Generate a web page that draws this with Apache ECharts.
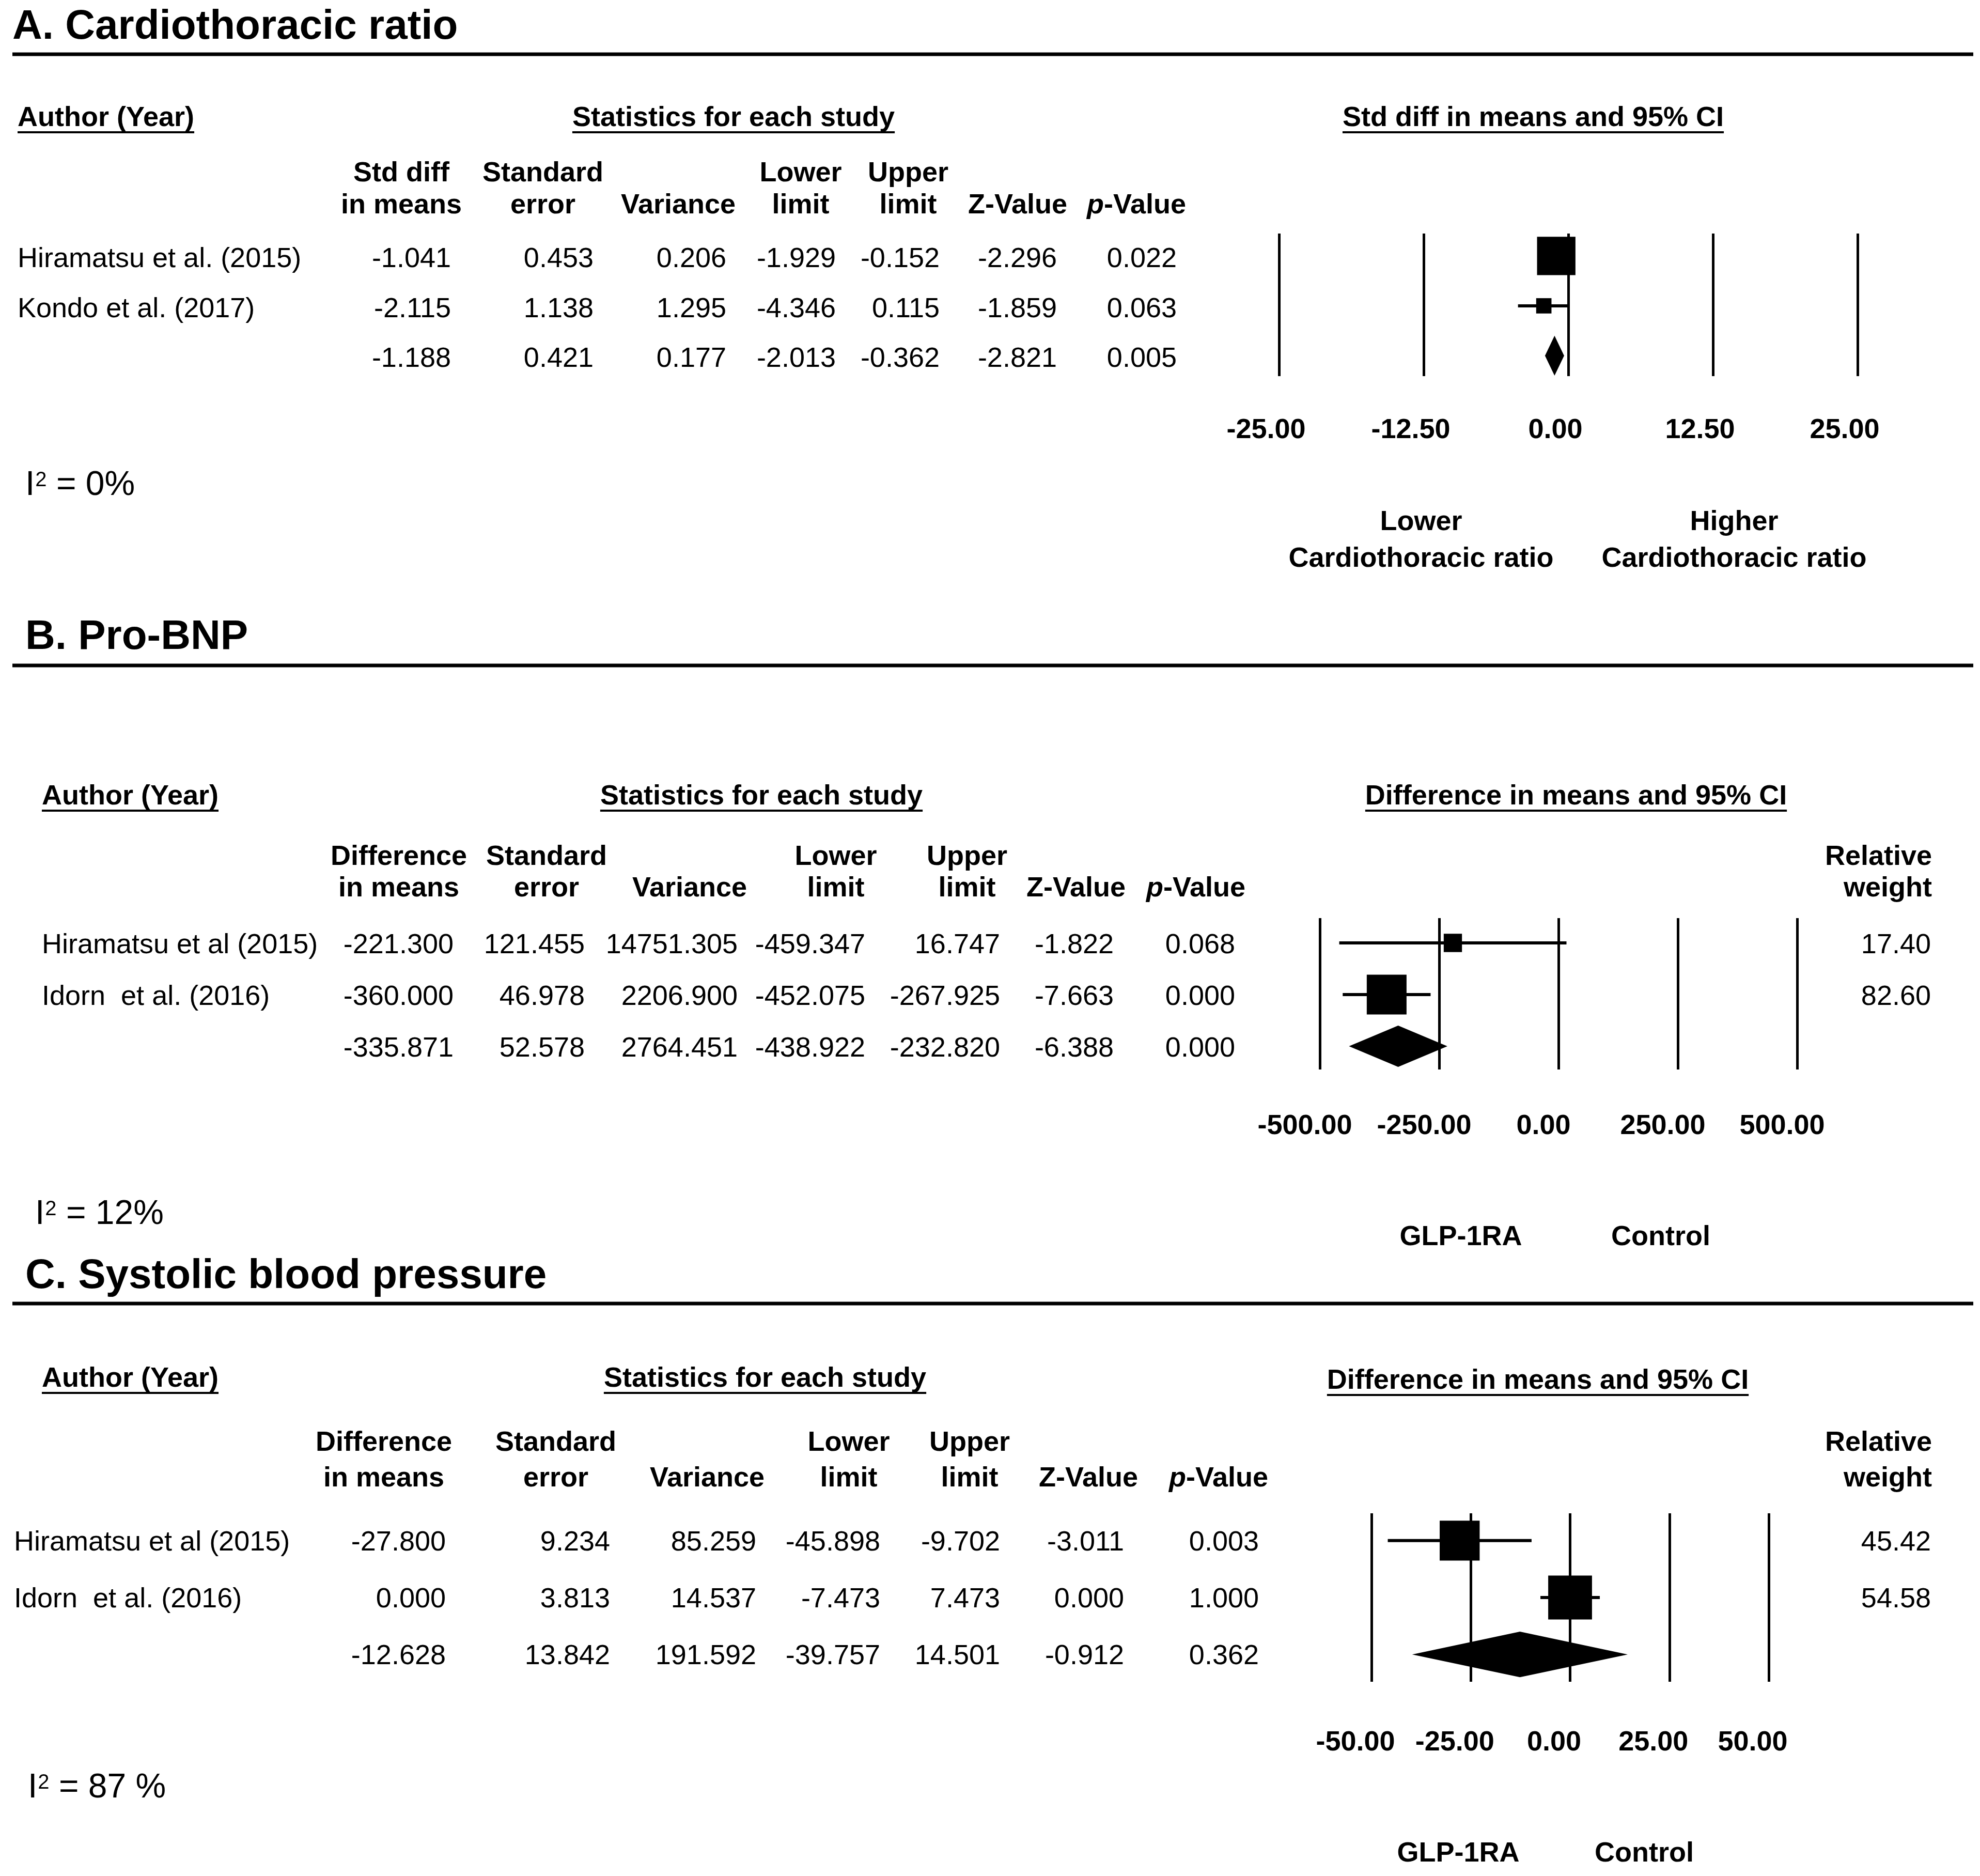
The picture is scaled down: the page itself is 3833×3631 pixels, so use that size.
<!DOCTYPE html>
<html><head><meta charset="utf-8">
<script src="https://cdn.jsdelivr.net/npm/echarts@6/dist/echarts.min.js"></script>
<style>html,body{margin:0;padding:0;background:#fff}#c{width:3833px;height:3631px}</style>
</head><body><div id="c"></div>
<script>
// ---------------- DATA ----------------
// A. Cardiothoracic ratio
const aTitle = 'A. Cardiothoracic ratio';
const aStudies = ['Hiramatsu et al. (2015)', 'Kondo et al. (2017)', ''];
const aEst = [-1.041, -2.115, -1.188];
const aSE = [0.453, 1.138, 0.421];
const aVar = [0.206, 1.295, 0.177];
const aLow = [-1.929, -4.346, -2.013];
const aUp = [-0.152, 0.115, -0.362];
const aZ = [-2.296, -1.859, -2.821];
const aP = [0.022, 0.063, 0.005];
const aTicks = [-25, -12.5, 0, 12.5, 25];
const aHeaders = [['Std diff', 'in means'], ['Standard', 'error'], ['', 'Variance'], ['Lower', 'limit'], ['Upper', 'limit'], ['', 'Z-Value'], ['', 'p-Value']];
const aPlotHeader = 'Std diff in means and 95% CI';
const aLeftLabel = ['Lower', 'Cardiothoracic ratio'];
const aRightLabel = ['Higher', 'Cardiothoracic ratio'];
const aI2 = ' = 0%';

// B. Pro-BNP
const bTitle = 'B. Pro-BNP';
const bStudies = ['Hiramatsu et al (2015)', 'Idorn  et al. (2016)', ''];
const bEst = [-221.300, -360.000, -335.871];
const bSE = [121.455, 46.978, 52.578];
const bVar = [14751.305, 2206.900, 2764.451];
const bLow = [-459.347, -452.075, -438.922];
const bUp = [16.747, -267.925, -232.820];
const bZ = [-1.822, -7.663, -6.388];
const bP = [0.068, 0.000, 0.000];
const bWeight = [17.40, 82.60];
const bTicks = [-500, -250, 0, 250, 500];
const bHeaders = [['Difference', 'in means'], ['Standard', 'error'], ['', 'Variance'], ['Lower', 'limit'], ['Upper', 'limit'], ['', 'Z-Value'], ['', 'p-Value']];
const bPlotHeader = 'Difference in means and 95% CI';
const bLabels = ['GLP-1RA', 'Control'];
const bI2 = ' = 12%';

// C. Systolic blood pressure
const cTitle = 'C. Systolic blood pressure';
const cStudies = ['Hiramatsu et al (2015)', 'Idorn  et al. (2016)', ''];
const cEst = [-27.800, 0.000, -12.628];
const cSE = [9.234, 3.813, 13.842];
const cVar = [85.259, 14.537, 191.592];
const cLow = [-45.898, -7.473, -39.757];
const cUp = [-9.702, 7.473, 14.501];
const cZ = [-3.011, 0.000, -0.912];
const cP = [0.003, 1.000, 0.362];
const cWeight = [45.42, 54.58];
const cTicks = [-50, -25, 0, 25, 50];
const cHeaders = bHeaders;
const cPlotHeader = 'Difference in means and 95% CI';
const cLabels = ['GLP-1RA', 'Control'];
const cI2 = ' = 87 %';

const authorHeader = 'Author (Year)';
const statsHeader = 'Statistics for each study';
const weightHeader = ['Relative', 'weight'];

// ---------------- LAYOUT / HELPERS ----------------
const FONT = '"Liberation Sans", Arial, sans-serif';
const DY = 4; // small global vertical nudge for text
const G = [];
const mctx = document.createElement('canvas').getContext('2d');
function measure(s, size, bold) { mctx.font = (bold ? 'bold ' : '') + size + 'px ' + FONT; return mctx.measureText(s).width; }
function txt(x, y, s, o) {
  o = o || {};
  const st = { text: s, fill: '#000', fontFamily: FONT, fontSize: o.size || 54, fontWeight: o.bold ? 'bold' : 'normal',
    fontStyle: o.italic ? 'italic' : 'normal', align: o.align || 'left', verticalAlign: 'middle',
    textAlign: o.align || 'left', textVerticalAlign: 'middle' };
  if (o.rich) st.rich = o.rich;
  G.push({ type: 'text', x: x, y: y + DY, silent: true, style: st });
}
function hline(x1, x2, y, w) { G.push({ type: 'line', silent: true, shape: { x1: x1, y1: y, x2: x2, y2: y }, style: { stroke: '#000', lineWidth: w } }); }
function underlined(x, y, s, align) {
  txt(x, y, s, { bold: true, align: align });
  const w = measure(s, 54, true);
  const x0 = align === 'center' ? x - w / 2 : x;
  hline(x0, x0 + w, y + DY + 27, 4);
}
function header(x, y, s) {
  if (!s) return;
  if (s === 'p-Value') {
    const rich = { i: { fontStyle: 'italic', fontWeight: 'bold', fontSize: 54, fontFamily: FONT, fill: '#000' },
                   n: { fontWeight: 'bold', fontSize: 54, fontFamily: FONT, fill: '#000' } };
    txt(x, y, '{i|p}{n|-Value}', { bold: true, align: 'center', rich: rich });
  } else txt(x, y, s, { bold: true, align: 'center' });
}
function i2(x, y, rest) {
  txt(x, y, 'I', { size: 66 });
  const w = measure('I', 66, false);
  txt(x + w + 1, y - 10, '2', { size: 40 });
  const w2 = measure('2', 40, false);
  txt(x + w + w2 + 1, y, rest, { size: 66 });
}

const panels = [
  { title: aTitle, titleX: 24, titleY: 49, lineY: 105, headY: 225, authorX: 34, statsX: 1420, ciX: 2968,
    colY: [332, 394], centers: [777, 1051, 1313, 1550, 1758, 1970, 2200], rights: [873, 1149, 1406, 1618, 1819, 2046, 2278],
    nameX: 34, rowDy: 3, headers: aHeaders, plotHeader: aPlotHeader,
    studies: aStudies, est: aEst, se: aSE, vr: aVar, lo: aLow, up: aUp, z: aZ, p: aP, weight: null, ticks: aTicks,
    grid: { left: 2476, top: 452, width: 1120, height: 276 }, ymin: -0.45, ymax: 2.41, labelMargin: 78, labelShift: 50,
    i2x: 49, i2y: 936, i2: aI2 },
  { title: bTitle, titleX: 49, titleY: 1230, lineY: 1288, headY: 1538, authorX: 81, statsX: 1474, ciX: 3051,
    colY: [1655, 1716], centers: [772, 1058, 1335, 1618, 1872, 2083, 2315], rights: [878, 1132, 1428, 1675, 1936, 2156, 2391],
    nameX: 81, rowDy: 1, headers: bHeaders, plotHeader: bPlotHeader,
    studies: bStudies, est: bEst, se: bSE, vr: bVar, lo: bLow, up: bUp, z: bZ, p: bP, weight: bWeight, ticks: bTicks,
    grid: { left: 2555, top: 1777, width: 924, height: 293 }, ymin: -0.48, ymax: 2.45, labelMargin: 83, labelShift: 58,
    i2x: 68, i2y: 2347, i2: bI2, weightRight: 3740, botLabels: bLabels, botX: [2828, 3215], botY: 2391 },
  { title: cTitle, titleX: 49, titleY: 2467, lineY: 2523, headY: 2665, authorX: 81, statsX: 1481, ciX: 2977,
    colY: [2789, 2858], centers: [743, 1076, 1369, 1643, 1877, 2107, 2359], rights: [863, 1181, 1464, 1704, 1936, 2176, 2437],
    nameX: 27, rowDy: 0, headers: cHeaders, plotHeader: cPlotHeader,
    studies: cStudies, est: cEst, se: cSE, vr: cVar, lo: cLow, up: cUp, z: cZ, p: cP, weight: cWeight, ticks: cTicks,
    grid: { left: 2655, top: 2929, width: 769, height: 326 }, ymin: -0.48, ymax: 2.48, labelMargin: 91, labelShift: 62,
    i2x: 54, i2y: 3457, i2: cI2, weightRight: 3740, botLabels: cLabels, botX: [2823, 3183], botY: 3584 }
];

const grids = [], xAxes = [], yAxes = [], series = [];
panels.forEach(function (P, k) {
  // title + rule
  txt(P.titleX, P.titleY, P.title, { size: 80, bold: true });
  hline(24, 3820, P.lineY, 7);
  // section headers
  underlined(P.authorX, P.headY, authorHeader, 'left');
  underlined(P.statsX, P.headY, statsHeader, 'center');
  underlined(P.ciX, P.headY + (k === 2 ? 4 : 0), P.plotHeader, 'center');
  P.headers.forEach(function (h, j) { header(P.centers[j], P.colY[0], h[0]); header(P.centers[j], P.colY[1], h[1]); });
  if (P.weight) {
    txt(P.weightRight, P.colY[0], weightHeader[0], { bold: true, align: 'right' });
    txt(P.weightRight, P.colY[1], weightHeader[1], { bold: true, align: 'right' });
  }
  // table rows
  const rowY = function (i) { return P.grid.top + (i - P.ymin) / (P.ymax - P.ymin) * P.grid.height + P.rowDy; };
  P.est.forEach(function (_, i) {
    const y = rowY(i);
    if (P.studies[i]) txt(P.nameX, y, P.studies[i]);
    const vals = [P.est[i], P.se[i], P.vr[i], P.lo[i], P.up[i], P.z[i], P.p[i]];
    vals.forEach(function (v, j) { txt(P.rights[j], y, v.toFixed(3), { align: 'right' }); });
    if (P.weight && i < P.weight.length) txt(P.weightRight - 2, y, P.weight[i].toFixed(2), { align: 'right' });
  });
  i2(P.i2x, P.i2y, P.i2);
  if (P.botLabels) {
    txt(P.botX[0], P.botY, P.botLabels[0], { bold: true, align: 'center' });
    txt(P.botX[1], P.botY, P.botLabels[1], { bold: true, align: 'center' });
  }

  // chart axes
  grids.push(Object.assign({ containLabel: false, outerBoundsMode: 'none' }, P.grid));
  xAxes.push({
    gridIndex: k, type: 'value', min: P.ticks[0], max: P.ticks[P.ticks.length - 1], interval: P.ticks[1] - P.ticks[0],
    axisLine: { show: false }, axisTick: { show: false },
    splitLine: { show: true, showMinLine: true, showMaxLine: true, lineStyle: { color: '#000', width: 5 } },
    axisLabel: { show: true, showMinLabel: true, showMaxLabel: true, margin: P.labelMargin, color: '#000', fontFamily: FONT,
      fontSize: 54, fontWeight: 'bold', padding: [0, P.labelShift, 0, 0], formatter: function (v) { return v.toFixed(2); } }
  });
  yAxes.push({ gridIndex: k, type: 'value', min: P.ymin, max: P.ymax, inverse: true, show: false, splitLine: { show: false } });

  // weights for square size
  const w = P.weight ? P.weight.slice() : P.vr.slice(0, P.vr.length - 1).map(function (v) { return 1 / v; });
  const wmax = Math.max.apply(null, w);
  const nStudy = P.est.length - 1;
  const data = P.est.map(function (e, i) { return [e, P.lo[i], P.up[i], i, i < nStudy ? w[i] / wmax : 0]; });
  series.push({
    type: 'custom', xAxisIndex: k, yAxisIndex: k, data: data, silent: true, clip: false,
    renderItem: function (params, api) {
      const e = api.value(0), l = api.value(1), h = api.value(2), r = api.value(3), rw = api.value(4);
      const c = api.coord([e, r]), pl = api.coord([l, r]), ph = api.coord([h, r]);
      const sp = api.size([0, 1])[1];
      if (r === nStudy) {
        const hh = 0.4 * sp;
        return { type: 'polygon', shape: { points: [[pl[0], c[1]], [c[0], c[1] - hh], [ph[0], c[1]], [c[0], c[1] + hh]] }, style: { fill: '#000' } };
      }
      const s = 0.77 * sp * Math.sqrt(rw);
      return { type: 'group', children: [
        { type: 'line', shape: { x1: pl[0], y1: c[1], x2: ph[0], y2: c[1] }, style: { stroke: '#000', lineWidth: 6 } },
        { type: 'rect', shape: { x: c[0] - s / 2, y: c[1] - s / 2, width: s, height: s }, style: { fill: '#000' } }
      ] };
    }
  });
});

// bottom labels of panel A
txt(2751, 1007, aLeftLabel[0], { bold: true, align: 'center' });
txt(2751, 1078, aLeftLabel[1], { bold: true, align: 'center' });
txt(3357, 1007, aRightLabel[0], { bold: true, align: 'center' });
txt(3357, 1078, aRightLabel[1], { bold: true, align: 'center' });

const chart = echarts.init(document.getElementById('c'), null, { renderer: 'canvas' });
chart.setOption({
  backgroundColor: '#fff',
  animation: false,
  grid: grids, xAxis: xAxes, yAxis: yAxes, series: series,
  graphic: { elements: G }
});
</script>
</body></html>
